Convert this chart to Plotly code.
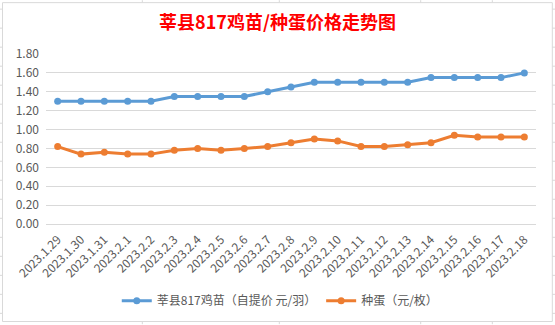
import plotly.graph_objects as go

dates = ["2023.1.29", "2023.1.30", "2023.1.31", "2023.2.1", "2023.2.2", "2023.2.3", "2023.2.4",
         "2023.2.5", "2023.2.6", "2023.2.7", "2023.2.8", "2023.2.9", "2023.2.10", "2023.2.11",
         "2023.2.12", "2023.2.13", "2023.2.14", "2023.2.15", "2023.2.16", "2023.2.17", "2023.2.18"]
chick_price = [1.30, 1.30, 1.30, 1.30, 1.30, 1.35, 1.35, 1.35, 1.35, 1.40, 1.45,
               1.50, 1.50, 1.50, 1.50, 1.50, 1.55, 1.55, 1.55, 1.55, 1.60]
egg_price = [0.82, 0.74, 0.76, 0.74, 0.74, 0.78, 0.80, 0.78, 0.80, 0.82, 0.86,
             0.90, 0.88, 0.82, 0.82, 0.84, 0.86, 0.94, 0.92, 0.92, 0.92]
series_names = ["莘县817鸡苗（自提价 元/羽）", "种蛋（元/枚）"]
title_text = "莘县817鸡苗/种蛋价格走势图"

W, H = 555, 325
ML, MR, MT, MB = 46, 19, 54, 100.5
PW, PH = W - ML - MR, H - MT - MB

def px_x(x):
    return (x - ML) / PW

def px_y(y):
    return (H - MB - y) / PH

FONT = "Noto Sans CJK SC, Noto Sans, sans-serif"
GRID = "#D9D9D9"
TXT = "#595959"

fig = go.Figure()
fig.add_trace(go.Scatter(x=dates, y=chick_price, name=series_names[0], mode="lines+markers",
                         line=dict(color="#5B9BD5", width=3),
                         marker=dict(color="#5B9BD5", size=7)))
fig.add_trace(go.Scatter(x=dates, y=egg_price, name=series_names[1], mode="lines+markers",
                         line=dict(color="#ED7D31", width=3),
                         marker=dict(color="#ED7D31", size=7)))

shapes = []
# chart border (spreadsheet chart object frame)
shapes.append(dict(type="rect", xref="paper", yref="paper",
                   x0=px_x(2.5), x1=px_x(552.3), y0=px_y(322.3), y1=px_y(2.5),
                   line=dict(color=GRID, width=1), layer="below"))
# spreadsheet cell grid visible outside the chart frame
rows = [9 + 19.07 * k for k in range(17)]
for r in rows:
    shapes.append(dict(type="line", xref="paper", yref="paper", x0=px_x(0), x1=px_x(2.5),
                       y0=px_y(r), y1=px_y(r), line=dict(color=GRID, width=1)))
    shapes.append(dict(type="line", xref="paper", yref="paper", x0=px_x(552.3), x1=px_x(555),
                       y0=px_y(r), y1=px_y(r), line=dict(color=GRID, width=1)))
cols = [142.3, 279.3, 420.7, 492.3]
for c in cols:
    shapes.append(dict(type="line", xref="paper", yref="paper", x0=px_x(c), x1=px_x(c),
                       y0=px_y(0), y1=px_y(2.5), line=dict(color=GRID, width=1)))
    shapes.append(dict(type="line", xref="paper", yref="paper", x0=px_x(c), x1=px_x(c),
                       y0=px_y(322.3), y1=px_y(325), line=dict(color=GRID, width=1)))

fig.update_layout(
    width=W, height=H,
    margin=dict(l=ML, r=MR, t=MT, b=MB, autoexpand=False),
    paper_bgcolor="white", plot_bgcolor="white",
    font=dict(family=FONT, color=TXT, size=12),
    title=dict(text="<b>" + title_text + "</b>", xref="container", yref="container",
               x=0.5, xanchor="center", y=1 - 22.5 / H, yanchor="middle",
               font=dict(family=FONT, size=18, color="#FF0000")),
    xaxis=dict(type="category", range=[-0.5, len(dates) - 0.5], tickangle=-45,
               showgrid=False, showline=True, linecolor=GRID, linewidth=1,
               tickfont=dict(size=12, color=TXT), ticks="", ticklabelstandoff=3),
    yaxis=dict(range=[0, 1.8], dtick=0.2, tick0=0, tickformat=".2f",
               showgrid=True, gridcolor=GRID, gridwidth=1, zeroline=False,
               showline=False, ticklabelstandoff=6,
               tickfont=dict(size=12, color=TXT)),
    legend=dict(orientation="h", xref="container", yref="container",
                x=0.505, xanchor="center", y=1 - 300.7 / H, yanchor="middle",
                font=dict(size=12, color=TXT), bgcolor="rgba(0,0,0,0)"),
    shapes=shapes,
    showlegend=True,
)

fig.write_html("out.html")
